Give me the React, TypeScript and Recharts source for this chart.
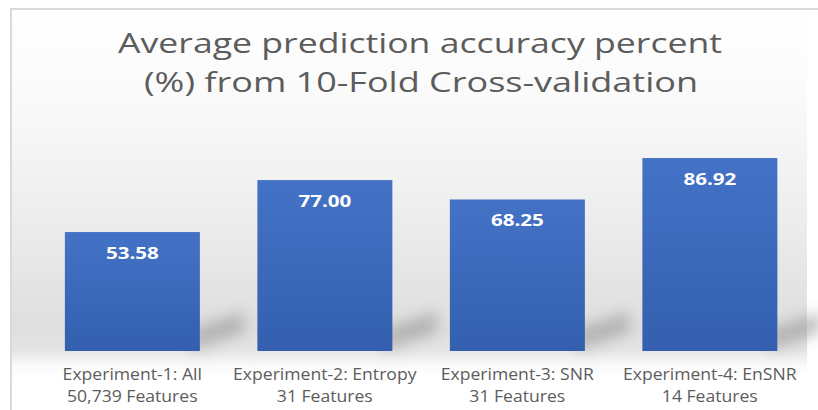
import React from "react";
import { BarChart, Bar, XAxis, YAxis, LabelList } from "recharts";

const titleLines = [
  "Average prediction accuracy percent",
  "(%) from 10-Fold Cross-validation",
];
const categories = [
  "Experiment-1: All|50,739 Features",
  "Experiment-2: Entropy|31 Features",
  "Experiment-3: SNR|31 Features",
  "Experiment-4: EnSNR|14 Features",
];
const accuracy = [53.58, 77.0, 68.25, 86.92];

const data = categories.map((name, i) => ({ name, accuracy: accuracy[i] }));

const FONT = "'Open Sans', sans-serif";
const GREY = "#5c5c5c";

// two-line category label, slightly stretched like the original export
function CategoryTick(props: any) {
  const { x, y, payload } = props;
  const lines = String(payload.value).split("|");
  return (
    <g transform={`translate(${x},${y}) scale(1.1,1)`}>
      {lines.map((ln: string, i: number) => (
        <text
          key={i}
          x={0}
          y={21 + i * 22}
          textAnchor="middle"
          fill={GREY}
          fontSize={16}
          fontFamily={FONT}
        >
          {ln}
        </text>
      ))}
    </g>
  );
}

function ValueLabel(props: any) {
  const { x, y, width, value } = props;
  return (
    <text
      x={x + width / 2}
      y={y + 27}
      textAnchor="middle"
      fill="#ffffff"
      fontSize={16}
      fontWeight="bold"
      fontFamily={FONT}
      textLength={53}
      lengthAdjust="spacingAndGlyphs"
    >
      {Number(value).toFixed(2)}
    </text>
  );
}

// bar with a soft floor shadow trailing to the right
function ShadowBar(props: any) {
  const { x, y, width, height } = props;
  const bottom = y + height;
  const right = x + width;
  return (
    <g>
      <polygon
        points={`${right - 8},${bottom} ${right - 8},${bottom - 22} ${right + 44},${bottom - 40} ${right + 44},${bottom - 18}`}
        fill="#8c8c8c"
        opacity={0.5}
        filter="url(#shadowBlur)"
      />
      <rect x={x} y={y} width={width} height={height} fill="url(#barFill)" />
    </g>
  );
}

export default function App() {
  return (
    <div
      style={{
        position: "fixed",
        left: 0,
        top: 0,
        width: 818,
        height: 410,
        background: "#ffffff",
        overflow: "hidden",
      }}
    >
      <div
        style={{
          position: "absolute",
          left: 10,
          top: 8,
          width: 808,
          height: 402,
          boxSizing: "border-box",
          borderTop: "2px solid #d9d9d9",
          borderLeft: "2px solid #d9d9d9",
        }}
      />
      <div
        style={{
          position: "absolute",
          left: 12,
          top: 10,
          width: 795,
          height: 400,
          background:
            "linear-gradient(to bottom, #ffffff 0%, #fafafa 22%, #f0f0f0 45%, #e6e6e6 65%, #dedede 80%, #e4e4e4 85%, #fafafa 89%, #ffffff 92%, #ffffff 100%)",
        }}
      />
      <svg
        width={818}
        height={110}
        style={{ position: "absolute", left: 0, top: 0 }}
      >
        <text
          x={420}
          y={53}
          textAnchor="middle"
          fill={GREY}
          fontSize={27}
          fontFamily={FONT}
          textLength={604}
          lengthAdjust="spacingAndGlyphs"
        >
          {titleLines[0]}
        </text>
        <text
          x={421}
          y={92}
          textAnchor="middle"
          fill={GREY}
          fontSize={27}
          fontFamily={FONT}
          textLength={554}
          lengthAdjust="spacingAndGlyphs"
        >
          {titleLines[1]}
        </text>
      </svg>
      <div style={{ position: "absolute", left: 0, top: 0 }}>
        <BarChart
          width={818}
          height={410}
          data={data}
          barCategoryGap="15%"
          margin={{ top: 129, right: 12, left: 36, bottom: 0 }}
        >
          <defs>
            <linearGradient id="barFill" x1="0" y1="0" x2="0" y2="1">
              <stop offset="0%" stopColor="#4472c6" />
              <stop offset="100%" stopColor="#335fae" />
            </linearGradient>
            <filter id="shadowBlur" x="-50%" y="-50%" width="200%" height="200%">
              <feGaussianBlur stdDeviation="7" />
            </filter>
          </defs>
          <XAxis
            dataKey="name"
            axisLine={false}
            tickLine={false}
            height={59}
            interval={0}
            tick={<CategoryTick />}
          />
          <YAxis hide domain={[0, 100]} />
          <Bar
            dataKey="accuracy"
            shape={<ShadowBar />}
            isAnimationActive={false}
          >
            <LabelList dataKey="accuracy" content={<ValueLabel />} />
          </Bar>
        </BarChart>
      </div>
    </div>
  );
}
